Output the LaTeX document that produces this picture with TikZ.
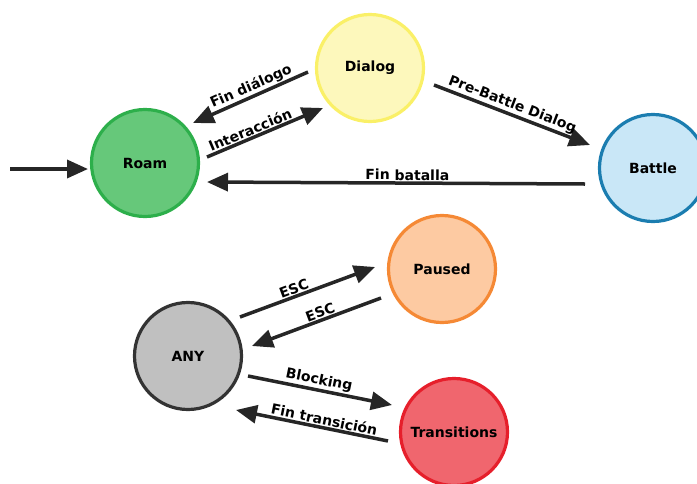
\documentclass[tikz,border=0pt]{standalone}
\usepackage{fontspec}
\setmainfont{DejaVu Sans}
\usetikzlibrary{arrows.meta}
\definecolor{roamfill}{HTML}{66C87A}
\definecolor{roamline}{HTML}{2DAF4B}
\definecolor{dialfill}{HTML}{FDF8BC}
\definecolor{dialline}{HTML}{FAF067}
\definecolor{batfill}{HTML}{C9E7F7}
\definecolor{batline}{HTML}{1B7DB0}
\definecolor{pausefill}{HTML}{FDCAA2}
\definecolor{pauseline}{HTML}{F58935}
\definecolor{anyfill}{HTML}{C0C0C0}
\definecolor{anyline}{HTML}{333333}
\definecolor{transfill}{HTML}{F0666E}
\definecolor{transline}{HTML}{E61F2B}
\definecolor{arrowc}{HTML}{262626}
\tikzset{
  state/.style={circle, minimum size=107pt, line width=3.2pt, inner sep=0pt,
    font=\fontsize{14}{16}\selectfont\bfseries},
  trans/.style={line width=3.5pt, draw=arrowc, -{Triangle[length=21pt,width=18pt]}},
  lbl/.style={sloped, above, inner sep=1pt, font=\fontsize{14}{16}\selectfont\bfseries}
}
\begin{document}
\begin{tikzpicture}[x=1pt,y=-1pt]
\useasboundingbox (0,0) rectangle (697,483);
\clip (0,0) rectangle (697,483);
\node[state, fill=roamfill, draw=roamline] (roam) at (145,163) {Roam};
\node[state, fill=dialfill, draw=dialline] (dialog) at (370,68) {Dialog};
\node[state, fill=batfill, draw=batline] (battle) at (653,168) {Battle};
\node[state, fill=pausefill, draw=pauseline] (paused) at (442,269) {Paused};
\node[state, fill=anyfill, draw=anyline] (any) at (188,356) {ANY};
\node[state, fill=transfill, draw=transline] (trans) at (454,432) {Transitions};

\coordinate (start) at (10,169);
\coordinate (roamin) at (88,169);
\coordinate (fd1) at (308,72);
\coordinate (fd2) at (193,123);
\coordinate (in1) at (207,157);
\coordinate (in2) at (323,108);
\coordinate (pb1) at (434,85);
\coordinate (pb2) at (590,145);
\coordinate (fb1) at (585,184);
\coordinate (fb2) at (207,182);
\coordinate (e1) at (240,317);
\coordinate (e2) at (375,267);
\coordinate (e3) at (381,298);
\coordinate (e4) at (252,346);
\coordinate (b1) at (248,376);
\coordinate (b2) at (392,405);
\coordinate (ft1) at (388,441);
\coordinate (ft2) at (236,410);

\draw[trans] (start) -- (roamin);
\draw[trans] (fd1) -- node[lbl, pos=0.46] {Fin diálogo} (fd2);
\draw[trans] (in1) -- node[lbl, pos=0.4] {Interacción} (in2);
\draw[trans] (pb1) -- node[lbl, pos=0.48] {Pre-Battle Dialog} (pb2);
\draw[trans] (fb1) -- node[lbl, pos=0.47] {Fin batalla} (fb2);
\draw[trans] (e1) -- node[lbl, pos=0.42] {ESC} (e2);
\draw[trans] (e3) -- node[lbl, pos=0.45] {ESC} (e4);
\draw[trans] (b1) -- node[lbl, pos=0.48] {Blocking} (b2);
\draw[trans] (ft1) -- node[lbl, pos=0.43] {Fin transición} (ft2);
\end{tikzpicture}
\end{document}
